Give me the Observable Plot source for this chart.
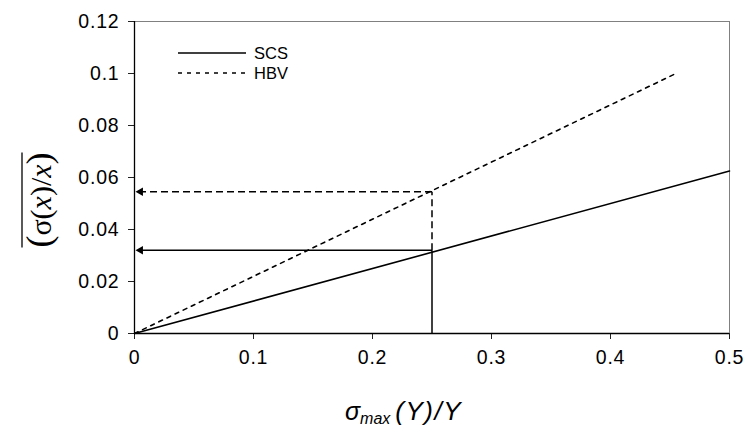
<!DOCTYPE html>
<html><head><meta charset="utf-8">
<script src="https://cdn.jsdelivr.net/npm/d3@7"></script>
<script src="https://cdn.jsdelivr.net/npm/@observablehq/plot@0.6"></script>
<style>body{margin:0;background:#fff} svg{display:block}</style>
</head><body><div id="chart"></div>
<script>
// ---- data ----
const xTicks = [0, 0.1, 0.2, 0.3, 0.4, 0.5];
const yTicks = [0, 0.02, 0.04, 0.06, 0.08, 0.1, 0.12];
const seriesNames = ["SCS", "HBV"];
const scsX = [0, 0.5];
const scsY = [0, 0.0625];
const hbvX = [0, 0.455];
const hbvY = [0, 0.1];
const readX = 0.25;          // sigma_max(Y)/Y read-off value
const scsRead = 0.032;       // SCS result at readX
const hbvRead = 0.0545;      // HBV result at readX
const arrowTipX = 0.005;

const scs = scsX.map((x, i) => ({x, y: scsY[i]}));
const hbv = hbvX.map((x, i) => ({x, y: hbvY[i]}));

const FONT = "Liberation Sans, Arial, sans-serif";

const plot = Plot.plot({
  width: 746, height: 429,
  marginLeft: 134, marginRight: 17, marginTop: 21, marginBottom: 96,
  style: {background: "#fff", color: "#000", fontFamily: FONT, overflow: "visible"},
  x: {domain: [0, 0.5]},
  y: {domain: [0, 0.12]},
  marks: [
    Plot.frame({stroke: "#808080", strokeWidth: 1}),
    Plot.axisX({ticks: xTicks, tickSize: 6, tickPadding: 11, tickFormat: d => String(d), label: null, stroke: "#222", fontSize: 19.5, fontFamily: FONT}),
    Plot.axisY({ticks: yTicks, tickSize: 6, tickPadding: 9, tickFormat: d => String(d), label: null, stroke: "#222", fontSize: 19.5, fontFamily: FONT}),
    Plot.ruleX([0], {stroke: "#000", strokeWidth: 1.3}),
    Plot.ruleY([0], {stroke: "#000", strokeWidth: 1.3}),
    Plot.line(scs, {x: "x", y: "y", stroke: "#000", strokeWidth: 1.6}),
    Plot.line(hbv, {x: "x", y: "y", stroke: "#000", strokeWidth: 1.6, strokeDasharray: "4,5"}),
    // read-off lines
    Plot.link([{x1: readX, y1: 0, x2: readX, y2: scsRead}], {x1: "x1", y1: "y1", x2: "x2", y2: "y2", stroke: "#000", strokeWidth: 1.5}),
    Plot.link([{x1: readX, y1: scsRead, x2: arrowTipX, y2: scsRead}], {x1: "x1", y1: "y1", x2: "x2", y2: "y2", stroke: "#000", strokeWidth: 1.5}),
    Plot.link([{x1: readX, y1: scsRead, x2: readX, y2: hbvRead}], {x1: "x1", y1: "y1", x2: "x2", y2: "y2", stroke: "#000", strokeWidth: 1.5, strokeDasharray: "7,4"}),
    Plot.link([{x1: readX, y1: hbvRead, x2: arrowTipX, y2: hbvRead}], {x1: "x1", y1: "y1", x2: "x2", y2: "y2", stroke: "#000", strokeWidth: 1.5, strokeDasharray: "7,4"}),
    Plot.dot([{x: arrowTipX, y: scsRead}, {x: arrowTipX, y: hbvRead}], {x: "x", y: "y", symbol: "triangle", r: 3.2, fill: "#000", stroke: "none", rotate: -90})
  ]
});
document.getElementById("chart").appendChild(plot);

const svg = d3.select(plot);
svg.selectAll("g[aria-label='x-axis tick label'] text").style("letter-spacing", "0.8px");
svg.selectAll("g[aria-label='y-axis tick label'] text").style("letter-spacing", "0.8px");

// legend
const legend = svg.append("g").attr("font-family", FONT).attr("font-size", 16.5).attr("text-anchor", "start");
seriesNames.forEach((name, i) => {
  const y = 53 + i * 20;
  legend.append("line").attr("x1", 178).attr("x2", 246).attr("y1", y).attr("y2", y)
    .attr("stroke", "#000").attr("stroke-width", 1.6)
    .attr("stroke-dasharray", i === 1 ? "4,5" : null);
  legend.append("text").attr("x", 254).attr("y", y).attr("dy", "0.36em").attr("fill", "#000").text(name);
});

// x label: sigma_max (Y)/Y
const xl = svg.append("text").attr("x", 345).attr("y", 420).attr("text-anchor", "start")
  .attr("font-family", FONT).attr("font-style", "italic").attr("fill", "#000");
xl.append("tspan").attr("font-size", 25).text("σ");
xl.append("tspan").attr("font-size", 16).attr("dy", 4).text("max");
xl.append("tspan").attr("font-size", 26).attr("dy", -4).attr("dx", 5).style("letter-spacing", "1.5px").text("(Y)/Y");

// y label: overline (σ(x)/x)
const yg = svg.append("g").attr("transform", "translate(51,200) rotate(-90)");
const yl = yg.append("text").attr("text-anchor", "middle").attr("font-family", "Liberation Serif, Times New Roman, serif").attr("fill", "#000");
yl.append("tspan").attr("font-size", 36).text("(");
yl.append("tspan").attr("font-size", 30).text("σ(");
yl.append("tspan").attr("font-size", 30).attr("font-style", "italic").text("x");
yl.append("tspan").attr("font-size", 30).text(")/");
yl.append("tspan").attr("font-size", 30).attr("font-style", "italic").text("x");
yl.append("tspan").attr("font-size", 36).text(")");
const bb = yl.node().getBBox();
yg.append("line").attr("x1", bb.x).attr("x2", bb.x + bb.width).attr("y1", bb.y + 3).attr("y2", bb.y + 3)
  .attr("stroke", "#000").attr("stroke-width", 1.3);
</script>
</body></html>
